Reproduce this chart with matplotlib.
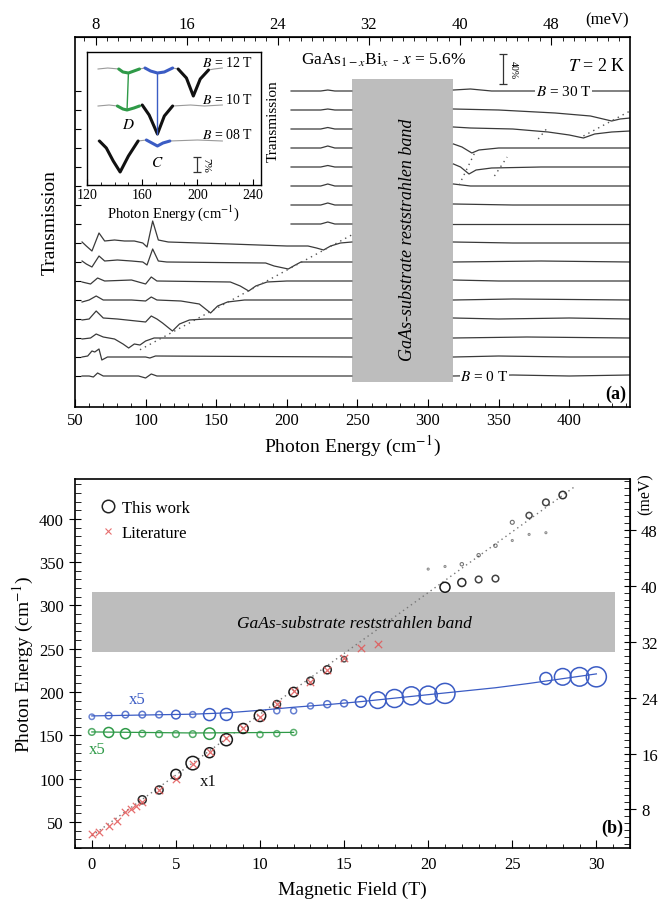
import numpy as np
import matplotlib.pyplot as plt
from matplotlib.lines import Line2D
from matplotlib.patches import Rectangle
from matplotlib.ticker import MultipleLocator, NullFormatter, FixedLocator

plt.rcParams['font.family'] = ['Liberation Serif', 'DejaVu Serif']
plt.rcParams['mathtext.fontset'] = 'stix'

CM_PER_MEV = 8.0655

# --- (a) transmission traces, B = 0..30 T in 2 T steps ---
fields_a = [0, 2, 4, 6, 8, 10, 12, 14, 16, 18, 20, 22, 24, 26, 28, 30]
trace_step = 19.0
trace_base = 31.0
# (energy cm-1, deviation) vertices, left of the band
low_traces = {
    0:  [(55, 0), (60, 0), (63, -1), (66, 3), (70, 0), (95, 0), (100, -2), (104, 2), (108, 0), (246, 0)],
    2:  [(55, 0), (59, 1), (62, 6), (64, 5), (67, 8), (69, -3), (73, 0), (100, 0), (103, -1), (107, 1), (246, 0)],
    4:  [(55, -1), (61, 0), (65, 4), (70, 1), (78, -1), (84, -6), (88, -10), (92, -6), (96, -7), (100, -3), (106, 0), (246, 0)],
    6:  [(55, -1), (60, 0), (65, 8), (70, 1), (80, 0), (100, -3), (104, 3), (108, 0), (112, -4), (119, -12), (124, -5), (131, -1), (142, 0), (246, 0)],
    8:  [(55, -2), (60, 0), (65, 4), (70, 0), (90, 0), (100, -1), (104, 3), (108, 0), (125, -1), (138, -4), (146, -13), (151, -6), (158, -2), (170, 0), (246, 0)],
    10: [(55, -1), (58, -2), (61, -3), (66, 3), (71, 0), (90, 1), (100, -3), (104, 4), (108, 0), (160, -1), (167, -5), (173, -10), (178, -5), (186, -1), (200, 0), (246, 0)],
    12: [(55, 1), (58, -2), (62, -5), (67, 6), (71, 1), (80, 2), (90, 1), (98, 0), (101, -3), (105, 13), (109, 1), (115, 0), (185, -1), (191, -4), (201, -7), (206, -3), (210, 0), (246, 0)],
    14: [(55, 1), (58, -3), (62, -8), (67, 10), (71, 2), (78, 3), (85, 2), (92, 2), (98, 0), (101, -4), (105, 22), (109, 3), (116, 1), (160, -1), (200, -3), (215, -3), (221, -5), (226, -7), (231, -3), (238, 0), (246, 1)],
}
# short stretch between the inset and the band for B = 16..30 T
upper_bump = {16: 2, 18: 2, 20: 2, 22: 1.5, 24: 2, 26: 1.5, 28: 1, 30: 1}
upper_x = [203, 224, 229, 234, 246]
upper_shape = [0, 0, 1, 0, 0]
# right of the band
high_traces = {
    0:  [(318, 0), (360, 1), (400, 0), (443, 1)],
    2:  [(318, 0), (350, 1), (400, 0), (443, 0)],
    4:  [(318, 0), (370, 1), (443, 0)],
    6:  [(318, 1), (350, 0), (400, 1), (443, 0)],
    8:  [(318, 0), (360, 1), (443, 0)],
    10: [(318, 1), (350, 0), (443, 0)],
    12: [(318, 0), (380, 1), (443, 0)],
    14: [(318, 1), (360, 0), (443, 0)],
    16: [(318, 0), (443, 0)],
    18: [(318, 1), (360, 0), (443, 0)],
    20: [(318, 2), (330, 0), (443, 0)],
    22: [(318, 3), (323, 0), (329, -7), (334, -3), (345, -1), (380, 0), (443, 0)],
    24: [(318, 4), (324, 1), (331, -5), (336, -2), (350, 0), (443, 0)],
    26: [(318, 2), (330, 1), (360, 0), (385, -3), (400, -6), (410, -9), (418, -5), (430, -3), (443, -2)],
    28: [(318, 1), (350, 0), (390, -3), (415, -6), (430, -11), (436, -9), (443, -8)],
    30: [(318, 1), (330, 2), (345, 0), (443, 0)],
}
guide_segments = [((322, 334), (222, 257)), ((347, 356), (231, 250)),
                  ((378, 385), (268, 280)), ((410, 443), (271, 296))]
band_cm = (246, 318)

# --- inset: B = 12, 10, 8 T ---
inset_fields = [12, 10, 8]
inset_base = {12: 116, 10: 79, 8: 44}
inset_traces = {
    12: [(128, 0), (135, 1), (143, 0), (146, -3), (150, -4), (154, -2), (158, 0), (162, 1), (166, -2), (171, -4), (176, -3), (182, 1),
         (186, 0), (192, -9), (197, -27), (202, -10), (208, -1), (212, 0), (218, 1)],
    10: [(128, 0), (136, 1), (142, 0), (146, -3), (149, -4), (154, -2), (158, 0), (160, 1), (165, -9), (171, -28), (176, -10),
         (182, 0), (195, 1), (205, 0), (218, 1)],
    8:  [(128, 0), (129, 0), (134, -7), (139, -20), (144, -31), (150, -15), (157, 0), (163, 1), (167, -2), (171, -5), (175, -2),
         (180, 0), (200, 1), (218, 0)],
}
inset_marks = [(12, 143, 158, 'green'), (12, 162, 182, 'blue'), (12, 186, 208, 'black'),
               (10, 142, 158, 'green'), (10, 160, 182, 'black'),
               (8, 129, 157, 'black'), (8, 163, 180, 'blue')]

# --- (b) fan chart ---
black_B = [3, 4, 5, 6, 7, 8, 9, 10, 11, 12, 13, 14, 15, 21, 22, 23, 24, 25, 26, 27, 28,
           20, 21, 22, 23, 24, 25, 26, 27]
black_E = [75.7, 87, 105, 118, 130, 145, 158, 172.6, 186, 200, 213, 225.7, 238, 321, 326.5, 330, 331, 396, 404, 419, 427.5,
           342, 345, 347.6, 358, 369, 375, 382, 384]
black_amp = [4, 4, 5, 6.7, 5, 6, 5, 5.7, 3.7, 4.7, 3.7, 4, 2.7, 5, 4, 3.3, 3.3, 2, 3, 3.3, 3.7,
             1, 1, 1.7, 1.7, 1.7, 1, 1, 1]

lit_B = [0, 0.45, 1, 1.5, 2, 2.35, 2.65, 3, 4, 5, 6, 7, 8, 9, 10, 11, 12, 13, 14, 15, 16, 17]
lit_E = [36, 38, 45.5, 51.5, 61, 65, 69, 73, 87, 100, 116.5, 130.5, 146.5, 158, 171, 186.5, 201, 212, 226, 239, 250.5, 255]

blue_B = [0, 1, 2, 3, 4, 5, 6, 7, 8, 11, 12, 13, 14, 15, 16, 17, 18, 19, 20, 21, 27, 28, 29, 30]
blue_E = [171.5, 172.8, 174, 174, 174, 174, 174, 174, 174.2, 178.4, 178.4, 184, 186, 187, 188.8, 190.7, 192.6, 195.7,
          196.5, 198.5, 215.7, 217.6, 217.6, 217.6]
blue_amp = [2.7, 3.3, 3.3, 3.3, 3.3, 4.3, 3, 6, 6, 3, 3, 3, 3.5, 3.5, 5.5, 8.3, 9, 9, 9, 10, 6, 8.3, 9.3, 10]
blue_fit_B = [0, 3, 6, 8, 10, 12, 14, 16, 18, 20, 22, 24, 26, 28, 30]
blue_fit_E = [172.5, 173.5, 174.5, 176, 179, 182.5, 185.5, 189, 193, 197, 201, 205, 210, 215.5, 221]

green_B = [0, 1, 2, 3, 4, 5, 6, 7, 10, 11, 12]
green_E = [154, 153.4, 152, 152, 151.5, 151.5, 151.5, 152, 151, 152, 153.4]
green_amp = [3.3, 5, 5, 3.3, 3.3, 3.3, 3.3, 5.7, 3, 3, 3]
green_fit_B = [0, 6, 12]
green_fit_E = [154, 152.8, 153.5]

cr_fit_B = [0, 28.7]
cr_fit_E = [34, 437]
band_B = (0, 31.1)
band_E = (246, 316)
mev_ticks = [8, 16, 24, 32, 40, 48]

BLUE = '#3b5cc4'
GREEN = '#2f9a48'
RED = '#e25555'
GRAY = '#bdbdbd'
TRACE = '#3a3a3a'
mark_colors = {'green': GREEN, 'blue': BLUE, 'black': '#111111'}

W, H = 660, 903
fig = plt.figure(figsize=(W / 100, H / 100), dpi=100)


def px_axes(l, t, r, b):
    return fig.add_axes([l / W, 1 - b / H, (r - l) / W, (b - t) / H])


# ================= panel (a) =================
ax = px_axes(75, 38, 630, 408)
ax.set_xlim(50, 443)
ax.set_ylim(0, 370)
ax.add_patch(Rectangle((band_cm[0], 25), band_cm[1] - band_cm[0], 303, color=GRAY, lw=0, zorder=1))

offsets = {}
for i, B in enumerate(fields_a):
    off = trace_base + trace_step * i
    offsets[B] = off
    if B in low_traces:
        x, y = np.array(low_traces[B]).T
        ax.plot(x, off + y, color=TRACE, lw=0.9, zorder=2)
    else:
        ax.plot(upper_x, off + upper_bump[B] * np.array(upper_shape), color=TRACE, lw=0.9, zorder=2)
    x, y = np.array(high_traces[B]).T
    ax.plot(x, off + y, color=TRACE, lw=0.9, zorder=2)

# dotted guide through the low-field dips
dip_e, dip_y = [], []
for B in [6, 8, 10, 12, 14]:
    x, y = np.array(low_traces[B]).T
    k = np.argmin(np.where(x > 110, y, 99))
    dip_e.append(x[k])
    dip_y.append(offsets[B] + y[k])
p = np.polyfit(dip_e, dip_y, 1)
gx = np.array([96, 246])
ax.plot(gx, np.polyval(p, gx), ls=(0, (1, 3)), color='#555555', lw=1, zorder=3)
for xs, ys in guide_segments:
    ax.plot(xs, ys, ls=(0, (1, 3)), color='#555555', lw=1, zorder=3)

ax.text(396, offsets[30], '$B$ = 30 T', ha='center', va='center', fontsize=11,
        bbox=dict(facecolor='white', edgecolor='none', pad=0.5), zorder=4)
ax.text(340, offsets[0], '$B$ = 0 T', ha='center', va='center', fontsize=11,
        bbox=dict(facecolor='white', edgecolor='none', pad=0.5), zorder=4)
ax.text(285.5, 168, 'GaAs-substrate reststrahlen band', rotation=90, ha='center', va='center',
        fontsize=13, style='italic', zorder=4)
ax.text(210, 348, 'GaAs$_{1-x}$Bi$_x$ - $x$ = 5.6%', ha='left', va='center', fontsize=12.5)
ax.text(440, 342, '$T$ = 2 K', ha='right', va='center', fontsize=13)
ax.errorbar(353, 338, yerr=15, color='#333333', capsize=3, lw=0.9, capthick=0.9)
ax.text(360, 338, '40%', rotation=270, ha='center', va='center', fontsize=7)
ax.text(440, 14, '(a)', ha='right', va='center', fontsize=13, fontweight='bold')

ax.xaxis.set_major_locator(MultipleLocator(50))
ax.xaxis.set_minor_locator(MultipleLocator(10))
ax.set_yticks([offsets[B] for B in fields_a])
ax.yaxis.set_major_formatter(NullFormatter())
ax.tick_params(axis='x', which='both', direction='in', top=False, labelsize=12)
ax.tick_params(axis='x', which='major', length=6)
ax.tick_params(axis='x', which='minor', length=3)
ax.tick_params(axis='y', which='major', direction='in', length=4)
ax.set_xlabel('Photon Energy (cm$^{-1}$)', fontsize=14, labelpad=4)
ax.set_ylabel('Transmission', fontsize=14, labelpad=8)

top = ax.secondary_xaxis('top', functions=(lambda c: c / CM_PER_MEV, lambda m: m * CM_PER_MEV))
top.xaxis.set_major_locator(FixedLocator(mev_ticks))
top.xaxis.set_minor_locator(MultipleLocator(1))
top.tick_params(which='both', direction='in', labelsize=12)
top.tick_params(which='major', length=6)
top.tick_params(which='minor', length=3)
fig.text(607 / W, 1 - 20 / H, '(meV)', ha='center', va='center', fontsize=12)

for s in ax.spines.values():
    s.set_linewidth(1.2)

# ---- inset ----
ins = px_axes(87, 53, 261, 186)
ins.set_xlim(120, 246)
ins.set_ylim(0, 133)
for B in inset_fields:
    x, y = np.array(inset_traces[B]).T
    ins.plot(x, inset_base[B] + y, color='#9a9a9a', lw=0.8)
for B, lo, hi, c in inset_marks:
    x, y = np.array(inset_traces[B]).T
    m = (x >= lo) & (x <= hi)
    ins.plot(x[m], inset_base[B] + y[m], color=mark_colors[c], lw=2.2, solid_capstyle='round')


def dip_in(B, lo, hi):
    x, y = np.array(inset_traces[B]).T
    m = (x >= lo) & (x <= hi)
    k = np.argmin(y[m])
    return x[m][k], inset_base[B] + y[m][k]


g1, g2 = dip_in(12, 143, 158), dip_in(10, 142, 158)
ins.plot([g1[0], g2[0]], [g1[1], g2[1]], color=GREEN, lw=1)
b1, b2 = dip_in(12, 162, 182), dip_in(10, 160, 182)
ins.plot([b1[0], b2[0]], [b1[1], b2[1]], color=BLUE, lw=1)
for B in inset_fields:
    ins.text(240, inset_base[B] + 7, '$B$ = %02d T' % B if B < 10 else '$B$ = %d T' % B,
             ha='right', va='center', fontsize=10)
ins.text(150, 61, '$D$', ha='center', va='center', fontsize=11)
ins.text(171, 23, '$C$', ha='center', va='center', fontsize=11)
ins.errorbar(200, 20.5, yerr=7.5, color='#333333', capsize=3, lw=0.9, capthick=0.9)
ins.text(206, 20.5, '7%', rotation=270, ha='center', va='center', fontsize=8)
ins.xaxis.set_major_locator(MultipleLocator(40))
ins.xaxis.set_minor_locator(MultipleLocator(10))
ins.set_yticks([])
ins.tick_params(axis='x', which='both', direction='in', labelsize=10, pad=2)
ins.tick_params(axis='x', which='major', length=4)
ins.tick_params(axis='x', which='minor', length=2)
ins.set_xlabel('Photon Energy (cm$^{-1}$)', fontsize=10.5, labelpad=1)
for s in ins.spines.values():
    s.set_linewidth(1.0)
fig.text(273 / W, 1 - 121 / H, 'Transmission', rotation=90, ha='center', va='center', fontsize=11)

# ================= panel (b) =================
axb = px_axes(75, 480, 630, 849)
axb.set_xlim(-1, 32)
axb.set_ylim(20, 446)
axb.add_patch(Rectangle((band_B[0], band_E[0]), band_B[1] - band_B[0], band_E[1] - band_E[0],
                        color=GRAY, lw=0, zorder=1))
axb.text(15.6, 280, 'GaAs-substrate reststrahlen band', ha='center', va='center',
         fontsize=12.5, style='italic', zorder=2)

axb.plot(cr_fit_B, cr_fit_E, ls=(0, (1, 2.5)), color='#777777', lw=1, zorder=2)
axb.plot(blue_fit_B, blue_fit_E, color=BLUE, lw=0.9, zorder=2)
axb.plot(green_fit_B, green_fit_E, color=GREEN, lw=0.9, zorder=2)


def circles(B, E, amp, color):
    amp = np.asarray(amp, float)
    for b, e, a in zip(B, E, amp):
        axb.scatter(b, e, s=(1.44 * a) ** 2, facecolors='none', edgecolors=color,
                    linewidths=1.1 if a > 2 else 0.8, alpha=min(1.0, 0.35 + a / 7), zorder=3)


circles(blue_B, blue_E, blue_amp, BLUE)
circles(green_B, green_E, green_amp, GREEN)
circles(black_B, black_E, black_amp, '#1a1a1a')
axb.scatter(lit_B, lit_E, marker='x', s=28, color=RED, linewidths=0.9, alpha=0.85, zorder=4)

axb.text(2.7, 192, 'x5', color=BLUE, fontsize=12, ha='center', va='center')
axb.text(0.3, 134, 'x5', color=GREEN, fontsize=12, ha='center', va='center')
axb.text(6.9, 97, 'x1', color='#111111', fontsize=12, ha='center', va='center')
axb.text(31.6, 44, '(b)', ha='right', va='center', fontsize=13, fontweight='bold')

handles = [Line2D([], [], marker='o', ls='none', mfc='none', mec='#222222', ms=9, mew=1.1),
           Line2D([], [], marker='x', ls='none', color=RED, ms=5, mew=0.8, alpha=0.85)]
axb.legend(handles, ['This work', 'Literature'], loc='upper left', bbox_to_anchor=(0.015, 0.985),
           frameon=False, fontsize=12, handletextpad=0.2, labelspacing=0.55, handlelength=1.2)

axb.xaxis.set_major_locator(MultipleLocator(5))
axb.xaxis.set_minor_locator(MultipleLocator(1))
axb.yaxis.set_major_locator(MultipleLocator(50))
axb.yaxis.set_minor_locator(MultipleLocator(10))
axb.tick_params(axis='x', which='both', direction='in', labelsize=12, pad=6)
axb.tick_params(axis='x', which='major', length=6)
axb.tick_params(axis='x', which='minor', length=3)
axb.tick_params(axis='y', which='major', direction='inout', length=9, labelsize=12)
axb.tick_params(axis='y', which='minor', direction='in', length=4)
axb.set_xlabel('Magnetic Field (T)', fontsize=14, labelpad=6)
axb.set_ylabel('Photon Energy (cm$^{-1}$)', fontsize=14, labelpad=2)

right = axb.secondary_yaxis('right', functions=(lambda c: c / CM_PER_MEV, lambda m: m * CM_PER_MEV))
right.yaxis.set_major_locator(FixedLocator(mev_ticks))
right.yaxis.set_minor_locator(MultipleLocator(1))
right.tick_params(which='major', direction='inout', length=9, labelsize=12)
right.tick_params(which='minor', direction='in', length=4)
fig.text(646 / W, 1 - 494 / H, '(meV)', rotation=90, ha='center', va='center', fontsize=11.5)

for s in axb.spines.values():
    s.set_linewidth(1.2)

fig.savefig('out.png', dpi=100)
